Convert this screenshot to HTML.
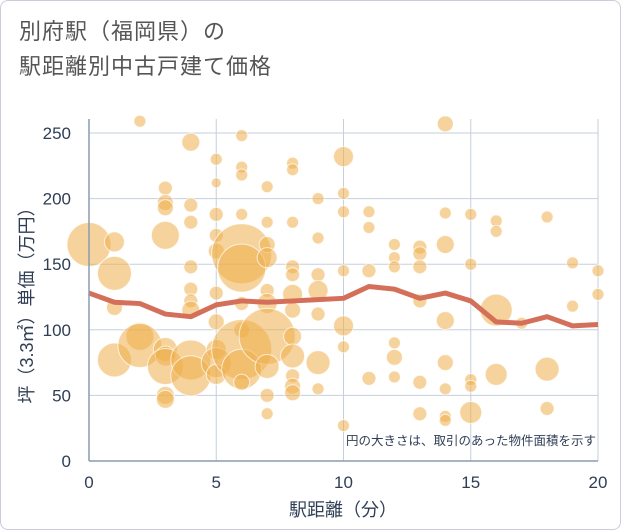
<!DOCTYPE html>
<html><head><meta charset="utf-8">
<style>
html,body{margin:0;padding:0;background:#fff;}
#wrap{position:relative;width:619px;height:528px;border:1px solid #ccd;border-radius:8px;overflow:hidden;font-family:"Liberation Sans","Noto Sans CJK JP",sans-serif;}
#title{position:absolute;left:18px;top:13px;font-size:22px;line-height:35px;color:#555;letter-spacing:1px;}
svg{position:absolute;left:0;top:0;}
</style></head><body>
<div id="wrap">
<div id="title">別府駅（福岡県）の<br>駅距離別中古戸建て価格</div>
<svg id="chart" width="621" height="530"></svg>
</div>
<script>
const xTicks=[0,5,10,15,20];
const yTicks=[0,50,100,150,200,250];
const avgX=[0,1,2,3,4,5,6,7,8,9,10,11,12,13,14,15,16,17,18,19,20];
const avgY=[128,121,120,112,110,119,122,121,122,123,124,133,131,124,128,122,106,105,110,103,104];
const bx=[0,1,1,1,1,2,2,2,3,3,3,3,3,3,3,3,3,4,4,4,4,4,4,4,4,4,5,5,5,5,5,5,5,5,5,5,6,6,6,6,6,6,6,6,6,6,6,7,7,7,7,7,7,7,7,7,7,8,8,8,8,8,8,8,8,8,8,8,8,9,9,9,9,9,9,9,10,10,10,10,10,10,10,11,11,11,11,12,12,12,12,12,12,13,13,13,13,13,13,14,14,14,14,14,14,14,14,15,15,15,15,15,16,16,16,16,17,18,18,18,19,19,20,20];
const by=[165,167,143,117,77,259,95,88,208,197,193,172,85,80,72,50,47,243,195,182,148,131,122,115,77,65,230,212,188,172,160,128,106,85,75,66,248,224,218,188,158,147,120,100,85,70,60,209,182,165,155,130,120,95,72,50,36,227,222,182,148,142,127,115,95,80,65,57,52,200,170,142,130,112,75,55,232,204,190,145,103,87,27,190,178,145,63,165,155,148,90,79,64,163,158,148,122,60,36,257,189,165,107,75,55,34,31,188,150,62,57,37,183,175,115,66,105,186,70,40,151,118,145,127];
const bs=[484,100,289,64,289,36,196,484,49,64,64,196,144,100,324,81,81,81,49,49,49,49,49,81,400,400,36,25,49,49,64,49,64,100,225,100,36,36,36,36,900,576,49,64,900,400,64,36,36,64,100,49,100,784,144,49,36,36,36,36,49,49,100,64,81,144,49,64,64,36,36,49,100,49,144,36,100,36,36,36,100,36,36,36,36,49,49,36,36,36,36,64,36,49,49,49,49,49,49,64,36,81,81,64,36,36,36,36,36,36,36,121,36,36,256,121,36,36,144,49,36,36,36,36];
const L=88,R=597,T=118,B=460;
const sx=v=>L+(v-0)/20*(R-L);
const sy=v=>B-v/250*(B-132);
const svg=document.getElementById('chart');
const NS='http://www.w3.org/2000/svg';
const TXT='#2f3e55';
function mk(tag,attrs,parent){const e=document.createElementNS(NS,tag);for(const k in attrs)e.setAttribute(k,attrs[k]);(parent||svg).appendChild(e);return e;}
xTicks.forEach(t=>{
  const g=mk('line',{x1:sx(t),x2:sx(t),y1:T,y2:B,stroke:'#c5cfdd','stroke-width':1});
  
  
  const tx=mk('text',{x:sx(t),y:487,'text-anchor':'middle','font-size':17,fill:TXT});
  tx.textContent=t;
  
  
});
yTicks.forEach(t=>{
  const g=mk('line',{x1:L,x2:R,y1:sy(t),y2:sy(t),stroke:'#c5cfdd','stroke-width':1});
  
  
  const tx=mk('text',{x:70,y:sy(t)+6,'text-anchor':'end','font-size':17,fill:TXT});
  tx.textContent=t;
  
  
});
bx.forEach((x,i)=>{
  const c=mk('circle',{cx:sx(x),cy:sy(by[i]),r:Math.sqrt(bs[i]),fill:'#efae4a','fill-opacity':0.55,stroke:'#fff','stroke-opacity':0.7,'stroke-width':1});
  
  
});
const pl=mk('polyline',{points:avgX.map((x,i)=>sx(x)+','+sy(avgY[i])).join(' '),fill:'none',stroke:'#d4705a','stroke-width':5,'stroke-linejoin':'round'});


const ax=mk('line',{x1:L,x2:L,y1:T,y2:B,stroke:'#8a9bb0','stroke-width':1.5});


const ay=mk('line',{x1:L,x2:R,y1:B,y2:B,stroke:'#8a9bb0','stroke-width':1.5});


const note=mk('text',{x:595,y:444,'text-anchor':'end','font-size':12.5,fill:TXT});
note.textContent='円の大きさは、取引のあった物件面積を示す';


const xt=mk('text',{x:342,y:515,'text-anchor':'middle','font-size':18,fill:TXT});
xt.textContent='駅距離（分）';


const yt=mk('text',{x:0,y:0,'text-anchor':'middle','font-size':18,fill:TXT,transform:'translate(32,300) rotate(-90)'});
yt.textContent='坪（3.3㎡）単価（万円）';


</script>
</body></html>
